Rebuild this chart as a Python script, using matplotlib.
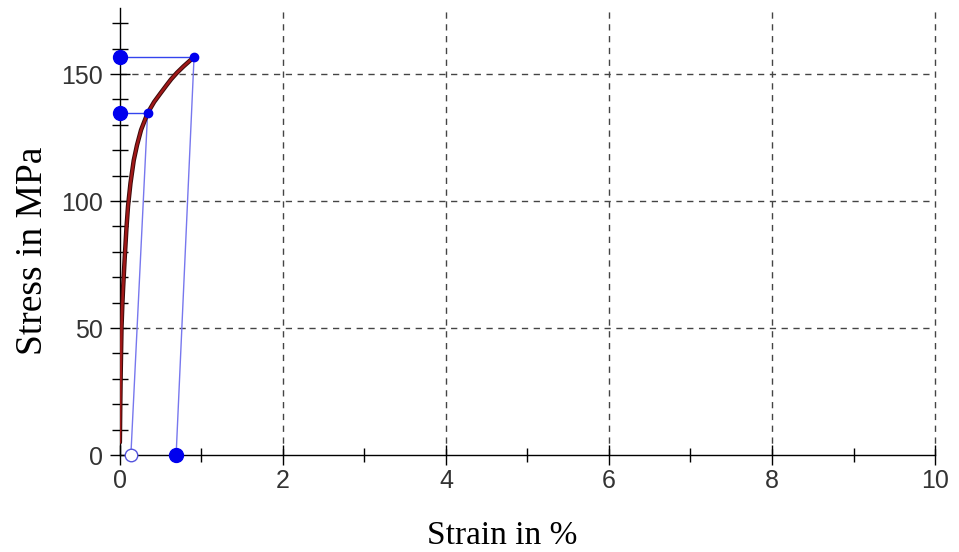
import numpy as np
import matplotlib.pyplot as plt
from matplotlib.ticker import MultipleLocator

# stress-strain curve (strain in %, stress in MPa)
strain = [0.0, 0.005, 0.01, 0.02, 0.03, 0.04, 0.06, 0.08, 0.10, 0.13, 0.17, 0.21, 0.26,
          0.34, 0.42, 0.5, 0.57, 0.63, 0.7, 0.78, 0.85, 0.91]
stress = [5, 20, 32, 50, 59, 66, 78, 89, 98, 107, 116, 122, 128,
          134.6, 139, 142.5, 145.5, 148, 150.5, 153, 155, 156.7]

# unloading paths: top point -> residual strain
load_pts = [(0.34, 134.6), (0.91, 156.7)]
residual = [0.135, 0.69]

fig = plt.figure(figsize=(9.59, 5.52), dpi=100)
ax = fig.add_axes([0.125, 0.1757, 0.85, 0.8098])

ax.set_xlim(0, 10)
ax.set_ylim(0, 176)

dash = (0, (4.5, 4))
for x in [2, 4, 6, 8, 10]:
    ax.axvline(x, color='#444444', ls=dash, lw=1.0, zorder=0, clip_on=False)
for y in [50, 100, 150]:
    ax.axhline(y, color='#444444', ls=dash, lw=1.0, zorder=0)

ax.plot(strain, stress, color='#3a0a0a', lw=3.2, solid_capstyle='round', zorder=3)
ax.plot(strain, stress, color='#a01818', lw=1.8, solid_capstyle='round', zorder=3)

for (xp, yp), xr in zip(load_pts, residual):
    ax.plot([0, xp], [yp, yp], color='#3344ee', lw=1.0, zorder=2)
    ax.plot([xp, xr], [yp, 0], color='#7777ee', lw=1.0, zorder=2)
    ax.plot([xp], [yp], 'o', color='#0000ee', ms=6, zorder=4, clip_on=False)
    ax.plot([0], [yp], 'o', color='#0000ee', ms=10, zorder=4, clip_on=False)

ax.plot([residual[0]], [0], 'o', mfc='white', mec='#5555dd', ms=9, mew=1.0, zorder=4, clip_on=False)
ax.plot([residual[1]], [0], 'o', color='#0000ee', ms=10, zorder=4, clip_on=False)

for s in ['top', 'right']:
    ax.spines[s].set_visible(False)
ax.spines['left'].set_linewidth(1.0)
ax.spines['bottom'].set_linewidth(1.0)

ax.xaxis.set_major_locator(MultipleLocator(2))
ax.xaxis.set_minor_locator(MultipleLocator(1))
ax.yaxis.set_major_locator(MultipleLocator(50))
ax.yaxis.set_minor_locator(MultipleLocator(10))
ax.tick_params(axis='both', which='major', direction='inout', length=14, width=1.0,
               labelsize=18)
ax.tick_params(axis='x', which='major', pad=3)
ax.tick_params(axis='y', which='major', pad=5)
ax.tick_params(axis='y', which='minor', direction='inout', length=11, width=1.0)
ax.tick_params(axis='x', which='minor', direction='inout', length=9.5, width=1.0)
for lab in ax.get_xticklabels() + ax.get_yticklabels():
    lab.set_fontfamily('Liberation Sans')
    lab.set_color('#333333')

ax.set_xlabel('Strain in %', fontfamily='Liberation Serif', fontsize=24, labelpad=20)
ax.set_ylabel('Stress in MPa', fontfamily='Liberation Serif', fontsize=27, labelpad=8)
ax.xaxis.label.set_x(0.469)
ax.yaxis.label.set_y(0.456)

fig.savefig('out.png', dpi=100)
